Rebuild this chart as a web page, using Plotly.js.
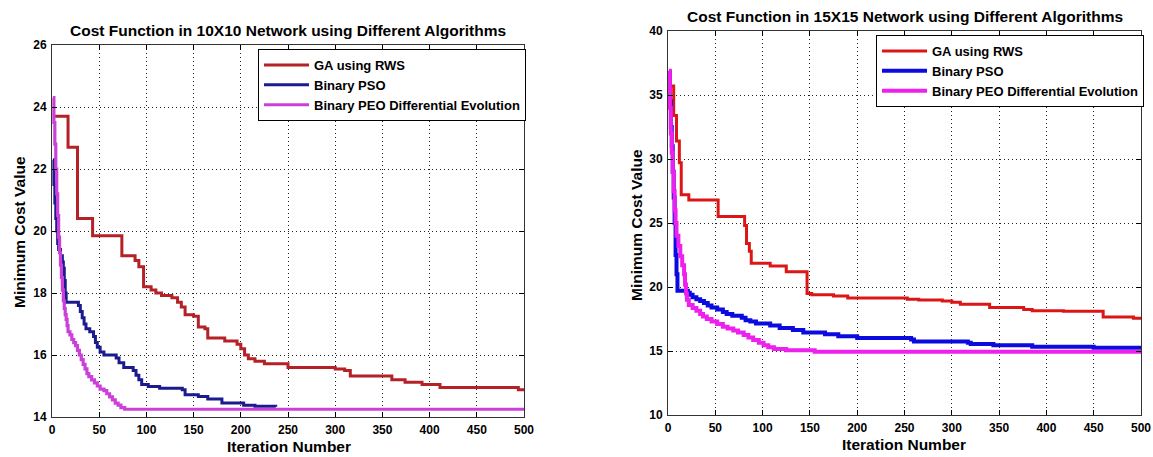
<!DOCTYPE html>
<html>
<head>
<meta charset="utf-8">
<script src="https://cdn.plot.ly/plotly-3.0.1.min.js"></script>
<style>html,body{margin:0;padding:0;background:#fff}#chart{width:1153px;height:457px}</style>
</head>
<body>
<div id="chart"></div>
<script>
// ---------- data ----------
const seriesNames = ["GA using RWS", "Binary PSO", "Binary PEO Differential Evolution"];

// 10X10 network
const ga10_x  = [1, 17, 27, 43, 74, 88, 92, 97, 105, 110, 116, 127, 133, 137, 141, 150, 155, 162, 165, 183, 196, 200, 204, 208, 215, 225, 250, 300, 310, 316, 360, 374, 392, 411, 494, 500];
const ga10_y  = [23.7, 22.7, 20.4, 19.85, 19.2, 19.05, 18.85, 18.2, 18.1, 18.0, 17.92, 17.85, 17.7, 17.55, 17.3, 17.25, 16.9, 16.85, 16.55, 16.45, 16.35, 16.2, 16.0, 15.88, 15.8, 15.72, 15.6, 15.55, 15.5, 15.32, 15.2, 15.12, 15.05, 14.95, 14.88, 14.88];
const pso10_x = [1, 2, 3, 4, 5, 6, 7, 9, 11, 12, 13, 14, 15, 28, 30, 32, 34, 36, 40, 44, 46, 48, 51, 55, 68, 71, 76, 86, 89, 92, 95, 102, 114, 138, 141, 155, 165, 180, 203, 215, 237];
const pso10_y = [22.3, 21.5, 20.9, 20.4, 20.0, 19.6, 19.4, 19.2, 19.0, 18.8, 18.4, 18.0, 17.7, 17.6, 17.4, 17.2, 17.0, 16.85, 16.75, 16.6, 16.4, 16.25, 16.1, 16.0, 15.9, 15.75, 15.6, 15.5, 15.35, 15.2, 15.05, 14.98, 14.93, 14.88, 14.72, 14.66, 14.58, 14.45, 14.38, 14.35, 14.33];
const de10_x  = [1, 2, 3, 4, 5, 6, 7, 8, 9, 10, 11, 12, 13, 14, 15, 16, 17, 19, 21, 23, 25, 27, 29, 31, 33, 35, 37, 39, 42, 45, 48, 51, 55, 58, 61, 64, 67, 70, 73, 77, 500];
const de10_y  = [24.3, 23.5, 22.8, 22.0, 21.2, 20.5, 19.8, 19.3, 18.9, 18.5, 18.1, 17.75, 17.5, 17.3, 17.15, 16.95, 16.75, 16.65, 16.5, 16.4, 16.3, 16.15, 16.0, 15.85, 15.7, 15.55, 15.4, 15.3, 15.2, 15.1, 15.0, 14.9, 14.85, 14.75, 14.65, 14.55, 14.45, 14.38, 14.3, 14.25, 14.25];

// 15X15 network
const ga15_x  = [1, 6, 9, 12, 14, 22, 53, 81, 83, 86, 88, 108, 125, 147, 152, 175, 190, 253, 265, 290, 300, 309, 340, 376, 385, 418, 460, 492, 500];
const ga15_y  = [35.7, 33.4, 31.4, 29.7, 27.2, 26.8, 25.5, 24.8, 23.4, 22.8, 21.85, 21.65, 21.2, 19.5, 19.4, 19.3, 19.15, 19.05, 18.98, 18.9, 18.8, 18.65, 18.4, 18.25, 18.15, 18.1, 17.65, 17.55, 17.55];
const pso15_x = [1, 2, 3, 4, 5, 6, 7, 8, 9, 10, 19, 21, 23, 26, 30, 34, 38, 42, 46, 52, 58, 62, 68, 78, 82, 87, 93, 108, 118, 132, 143, 166, 180, 200, 257, 260, 317, 320, 344, 385, 450, 500];
const pso15_y = [36.8, 34.5, 32.5, 31.0, 29.0, 27.0, 25.0, 22.5, 21.0, 19.7, 19.7, 19.55, 19.4, 19.2, 19.05, 18.9, 18.75, 18.55, 18.4, 18.25, 18.05, 17.9, 17.75, 17.6, 17.4, 17.3, 17.15, 17.0, 16.8, 16.65, 16.45, 16.3, 16.15, 16.02, 15.9, 15.75, 15.65, 15.55, 15.45, 15.33, 15.25, 15.25];
const de15_x  = [1, 2, 3, 4, 5, 6, 7, 8, 9, 11, 13, 15, 17, 18, 19, 20, 22, 26, 30, 34, 37, 41, 46, 52, 58, 63, 69, 74, 80, 85, 90, 96, 101, 106, 112, 125, 155, 500];
const de15_y  = [36.9, 34.0, 32.0, 30.5, 29.0, 27.5, 26.0, 25.0, 24.0, 23.2, 22.4, 21.7, 21.0, 20.2, 19.5, 19.0, 18.6, 18.35, 18.15, 17.9, 17.7, 17.5, 17.3, 17.1, 16.9, 16.75, 16.6, 16.45, 16.25, 16.05, 15.85, 15.65, 15.45, 15.3, 15.15, 15.05, 14.95, 14.95];

const xTicks = [0, 50, 100, 150, 200, 250, 300, 350, 400, 450, 500];
const yTicks10 = [14, 16, 18, 20, 22, 24, 26];
const yTicks15 = [10, 15, 20, 25, 30, 35, 40];

const chartTitles = ["Cost Function in 10X10 Network using Different Algorithms", "Cost Function in 15X15 Network using Different Algorithms"];
const xTitle = "Iteration Number";
const yTitle = "Minimum Cost Value";

// ---------- styling ----------
const FONT = "Liberation Sans, Arial, Helvetica, sans-serif";
const colors10 = ["#b42127", "#1b1b8e", "#cc40da"];
const colors15 = ["#dc1616", "#0b0be0", "#ee20ee"];
const widths10 = [3, 3, 3.2];
const widths15 = [3, 4, 4];

function tr(x, y, i, xa, ya, colors, widths, legend) {
  return {x: x, y: y, type: 'scatter', mode: 'lines', name: seriesNames[i],
    xaxis: xa, yaxis: ya, legend: legend,
    line: {color: colors[i], width: widths[i], shape: 'hv'}, hoverinfo: 'skip'};
}

const data = [
  tr(ga10_x, ga10_y, 0, 'x', 'y', colors10, widths10, 'legend'),
  tr(pso10_x, pso10_y, 1, 'x', 'y', colors10, widths10, 'legend'),
  tr(de10_x, de10_y, 2, 'x', 'y', colors10, widths10, 'legend'),
  tr(ga15_x, ga15_y, 0, 'x2', 'y2', colors15, widths15, 'legend2'),
  tr(pso15_x, pso15_y, 1, 'x2', 'y2', colors15, widths15, 'legend2'),
  tr(de15_x, de15_y, 2, 'x2', 'y2', colors15, widths15, 'legend2')
];

const W = 1153, H = 457;
const tickFont = {family: FONT, size: 12, color: '#000', weight: 'bold'};
function axis(domain, anchor, range, ticks) {
  return {domain: domain, anchor: anchor, range: range, tickmode: 'array', tickvals: ticks,
    ticktext: ticks.map(String),
    ticks: 'inside', ticklen: 5, tickcolor: '#000', tickwidth: 1,
    showline: true, linecolor: '#333', linewidth: 1, mirror: 'ticks',
    showgrid: true, gridcolor: '#222', griddash: '1px,3px', gridwidth: 1,
    zeroline: false, automargin: false, fixedrange: true, tickfont: tickFont, ticklabelstandoff: 2};
}

const legendFont = {family: FONT, size: 13, color: '#000', weight: 'bold'};
const titleFont = {family: FONT, size: 15.5, color: '#000', weight: 'bold'};
const axTitleFont = {family: FONT, size: 15.5, color: '#000', weight: 'bold'};

const layout = {
  width: W, height: H,
  margin: {l: 0, r: 0, t: 0, b: 0},
  paper_bgcolor: '#fff', plot_bgcolor: '#fff',
  showlegend: true,
  xaxis:  axis([52 / W, 524 / W], 'y', [0, 500], xTicks),
  yaxis:  axis([(H - 417) / H, (H - 45) / H], 'x', [14, 26], yTicks10),
  xaxis2: axis([668 / W, 1141 / W], 'y2', [0, 500], xTicks),
  yaxis2: axis([(H - 415) / H, (H - 31) / H], 'x2', [10, 40], yTicks15),
  legend: {x: 258 / W, y: (H - 49) / H, xanchor: 'left', yanchor: 'top', xref: 'paper', yref: 'paper',
    bgcolor: '#fff', bordercolor: '#000', borderwidth: 1, itemwidth: 45,
    font: legendFont, tracegroupgap: 0},
  legend2: {x: 876 / W, y: (H - 35) / H, xanchor: 'left', yanchor: 'top', xref: 'paper', yref: 'paper',
    bgcolor: '#fff', bordercolor: '#000', borderwidth: 1, itemwidth: 45,
    font: legendFont, tracegroupgap: 0},
  annotations: [
    {text: chartTitles[0], x: 288 / W, y: (H - 30) / H, xref: 'paper', yref: 'paper', showarrow: false,
      xanchor: 'center', yanchor: 'middle', font: titleFont},
    {text: chartTitles[1], x: 905 / W, y: (H - 16) / H, xref: 'paper', yref: 'paper', showarrow: false,
      xanchor: 'center', yanchor: 'middle', font: titleFont},
    {text: xTitle, x: 289 / W, y: (H - 446) / H, xref: 'paper', yref: 'paper', showarrow: false,
      xanchor: 'center', yanchor: 'middle', font: axTitleFont},
    {text: xTitle, x: 904 / W, y: (H - 444) / H, xref: 'paper', yref: 'paper', showarrow: false,
      xanchor: 'center', yanchor: 'middle', font: axTitleFont},
    {text: yTitle, x: 19 / W, y: (H - 232) / H, xref: 'paper', yref: 'paper', showarrow: false, textangle: -90,
      xanchor: 'center', yanchor: 'middle', font: axTitleFont},
    {text: yTitle, x: 636 / W, y: (H - 225) / H, xref: 'paper', yref: 'paper', showarrow: false, textangle: -90,
      xanchor: 'center', yanchor: 'middle', font: axTitleFont}
  ]
};

Plotly.newPlot('chart', data, layout, {displayModeBar: false, staticPlot: true});
</script>
</body>
</html>
